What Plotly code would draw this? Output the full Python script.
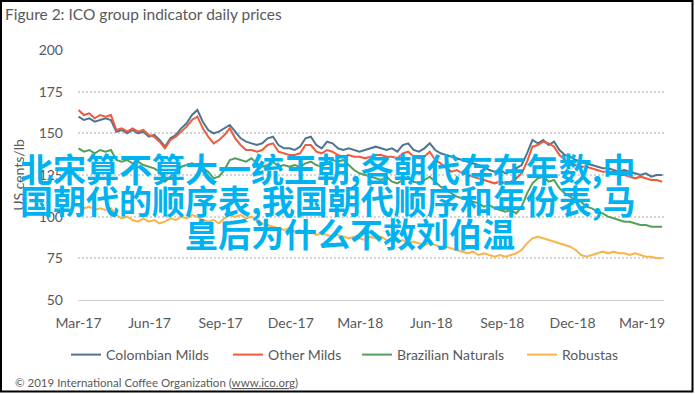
import pandas as pd
import plotly.graph_objects as go

# ---- data (weekly readings, US cents/lb) ----
dates = pd.date_range("2017-03-01", periods=109, freq="7D")

colombian_milds = [
    160, 158, 159, 157, 158, 159, 158, 151, 152, 150,
    152, 150, 151, 148, 149, 146, 142, 147, 149, 153,
    156, 161, 164, 157, 152, 150, 151, 153, 155, 151,
    147, 145, 144, 143, 144, 147, 148, 143, 141, 141,
    140, 142, 147, 148, 143, 141, 145, 144, 141, 140,
    141, 140, 139, 140, 141, 142, 141, 140, 141, 139,
    143, 144, 140, 139, 141, 144, 140, 138, 137, 136,
    135, 134, 133, 132, 131, 130, 128, 127, 128, 126,
    127, 129, 131, 138, 146, 144, 146, 143, 145, 140,
    137, 136, 134, 133, 132, 131, 130, 129, 129, 128,
    127, 128, 127, 126, 125, 126, 124, 125, 125,
]
other_milds = [
    164, 161, 162, 159, 161, 160, 161, 152, 153, 151,
    153, 151, 152, 149, 148, 145, 141, 146, 148, 151,
    154, 158, 160, 153, 148, 144, 146, 149, 153, 147,
    143, 140, 140, 139, 140, 143, 144, 139, 138, 137,
    137, 138, 143, 143, 139, 138, 140, 139, 137, 136,
    137, 136, 136, 135, 136, 137, 137, 136, 136, 135,
    138, 139, 136, 135, 136, 139, 134, 132, 129, 127,
    128, 126, 125, 124, 123, 122, 121, 120, 121, 120,
    121, 123, 126, 133, 142, 143, 145, 144, 142, 137,
    134, 133, 131, 130, 130, 129, 128, 127, 127, 126,
    125, 125, 124, 123, 124, 123, 122, 122, 121,
]
brazilian_naturals = [
    141, 139, 140, 138, 140, 139, 140, 134, 133, 134,
    132, 133, 131, 130, 129, 127, 121, 124, 127, 130,
    131, 132, 131, 129, 127, 123, 124, 128, 134, 135,
    134, 133, 135, 132, 130, 131, 133, 130, 131, 130,
    131, 130, 132, 133, 131, 130, 132, 134, 133, 134,
    131, 128, 126, 125, 124, 123, 122, 124, 121, 120,
    122, 124, 121, 120, 122, 124, 121, 118, 116, 114,
    112, 111, 110, 109, 108, 106, 107, 105, 104, 103,
    104, 102, 106, 114, 120, 123, 124, 121, 122, 117,
    114, 112, 110, 109, 106, 105, 103, 102, 100, 99,
    98, 97, 97, 96, 95, 95, 94, 94, 94,
]
robustas = [
    106, 105, 106, 104, 105, 104, 105, 101, 99, 100,
    98, 97, 99, 97, 98, 96, 97, 99, 98, 100,
    99, 101, 100, 98, 97, 98, 96, 99, 101, 100,
    101, 99, 100, 98, 96, 95, 94, 93, 92, 93,
    91, 92, 90, 91, 89, 90, 89, 88, 89, 88,
    87, 88, 87, 86, 88, 87, 88, 86, 86, 85,
    86, 84, 85, 84, 83, 84, 83, 82, 82, 81,
    80, 79, 78, 79, 77, 78, 77, 76, 77, 76,
    77, 78, 80, 84, 87, 88, 87, 86, 85, 84,
    83, 82, 80, 77, 76, 77, 78, 79, 78, 79,
    78, 78, 77, 78, 77, 76, 76, 75, 75,
]

series_names = ["Colombian Milds", "Other Milds", "Brazilian Naturals", "Robustas"]
series_values = [colombian_milds, other_milds, brazilian_naturals, robustas]
series_colors = ["#50758f", "#ef5b3d", "#52a05a", "#f9b54a"]

tick_dates = ["2017-03-01", "2017-06-01", "2017-09-01", "2017-12-01", "2018-03-01",
              "2018-06-01", "2018-09-01", "2018-12-01", "2019-03-01"]
tick_labels = ["Mar-17", "Jun-17", "Sep-17", "Dec-17", "Mar-18",
               "Jun-18", "Sep-18", "Dec-18", "Mar-19"]
y_ticks = [50, 75, 100, 125, 150, 175, 200]

title_text = "Figure 2: ICO group indicator daily prices"
y_title = "US cents/lb"
footer_text = ("© 2019 International Coffee Organization "
               "(<span style='text-decoration:underline'>www.ico.org</span>)")
overlay_lines = ["北宋算不算大一统王朝,各朝代存在年数,中",
                 "国朝代的顺序表,我国朝代顺序和年份表,马",
                 "皇后为什么不救刘伯温"]

# ---- layout geometry ----
W, H = 695, 394
L, R, T, B = 78, 31, 50, 94
pw, ph = W - L - R, H - T - B


def px_x(px):
    return (px - L) / pw


def px_y(py):
    return (H - B - py) / ph


FONT = "Lato, 'Open Sans', sans-serif"
GREY = "#595959"

fig = go.Figure()
legend_ids = ["legend", "legend2", "legend3", "legend4"]
for name, vals, col, lg in zip(series_names, series_values, series_colors, legend_ids):
    fig.add_trace(go.Scatter(x=dates, y=vals, mode="lines", name=name,
                             line=dict(color=col, width=2), legend=lg))

legend_left_px = [66, 228, 357, 522]
legend_common = dict(orientation="h", xanchor="left", yanchor="middle", y=px_y(355),
                     bgcolor="rgba(0,0,0,0)", font=dict(family=FONT, size=14, color=GREY))
lay_legends = {lg: dict(legend_common, x=px_x(p)) for lg, p in zip(legend_ids, legend_left_px)}

fig.update_layout(
    width=W, height=H,
    margin=dict(l=L, r=R, t=T, b=B),
    paper_bgcolor="white", plot_bgcolor="white",
    showlegend=True,
    title=dict(text=title_text, x=5 / W, xref="container", xanchor="left",
               y=1 - 15 / H, yref="container", yanchor="middle",
               font=dict(family=FONT, size=15.5, color=GREY)),
    xaxis=dict(type="date", range=["2017-02-28 08:00", "2019-03-29 10:00"],
               tickvals=tick_dates, ticktext=tick_labels, showgrid=False,
               showline=True, linecolor="#d0d0d0", linewidth=1,
               ticks="", ticklabelstandoff=10,
               tickfont=dict(family=FONT, size=14, color=GREY), zeroline=False),
    yaxis=dict(range=[50, 200], tickvals=y_ticks, showgrid=True,
               gridcolor="#d4d4d4", gridwidth=1.5, griddash="2px,2px",
               ticks="", ticklabelstandoff=14, zeroline=False,
               tickfont=dict(family=FONT, size=14, color=GREY),
               title=dict(text=y_title, standoff=10,
                          font=dict(family=FONT, size=14, color=GREY))),
    **lay_legends,
)

annotations = []
for i, line in enumerate(overlay_lines):
    left = 18 if i < 2 else 183
    cy = [168, 200, 233][i]
    annotations.append(dict(text=line, x=px_x(left), y=px_y(cy), xref="paper", yref="paper",
                            xanchor="left", yanchor="middle", showarrow=False,
                            font=dict(family="Noto Sans CJK SC", size=33, color="#00b2f0",
                                      weight="bold")))
annotations.append(dict(text=footer_text, x=px_x(13), y=px_y(382), xref="paper", yref="paper",
                        xanchor="left", yanchor="middle", showarrow=False,
                        font=dict(family=FONT, size=11.5, color=GREY)))
fig.update_layout(annotations=annotations)

fig.add_shape(type="rect", xref="paper", yref="paper",
              x0=px_x(1), x1=px_x(692.5), y0=px_y(391.5), y1=px_y(1),
              line=dict(color="black", width=2), fillcolor="rgba(0,0,0,0)", layer="above")

fig.write_html("out.html", config={"displayModeBar": False},
               post_script="document.body.style.margin='0';")
